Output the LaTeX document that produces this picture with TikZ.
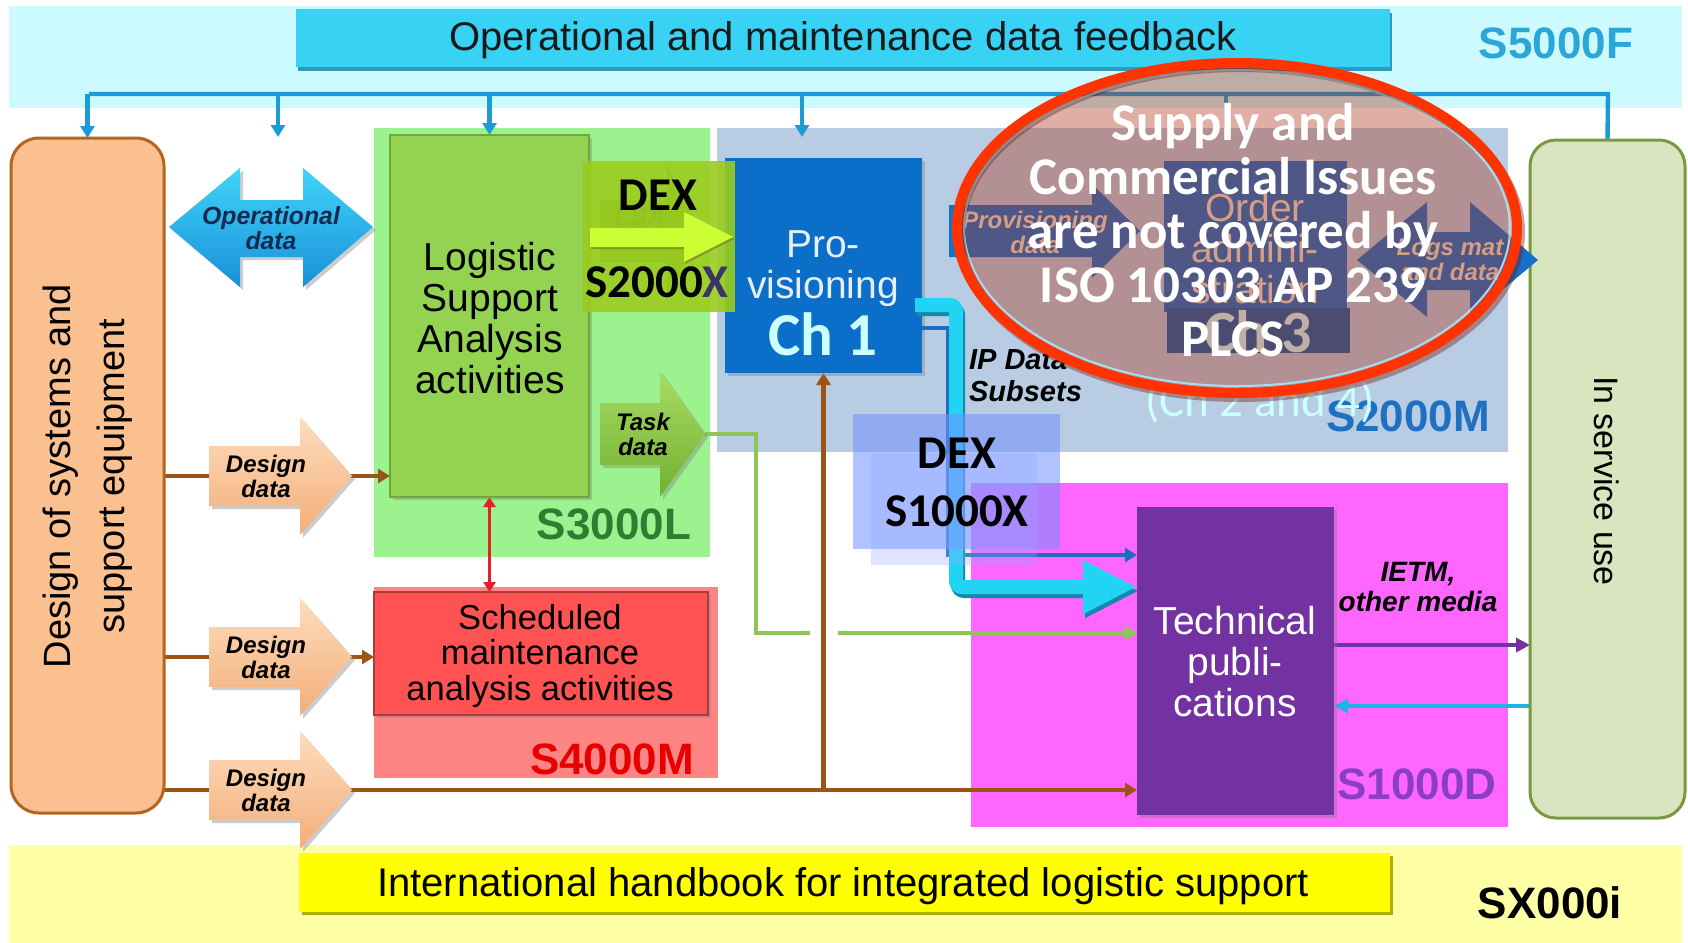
\documentclass[tikz,border=0pt]{standalone}
\usepackage{fontspec}
\setmainfont{Liberation Sans}
\newfontfamily\calibri{Carlito}
\usetikzlibrary{arrows.meta,shadows,fit}
\pgfdeclarelayer{bg}
\pgfdeclarelayer{lines}
\pgfsetlayers{bg,lines,main}
\definecolor{bandcyan}{HTML}{CCFAFF}
\definecolor{barcyan}{HTML}{38D2F4}
\definecolor{barcyanD}{HTML}{1E8FB8}
\definecolor{bandyel}{HTML}{FFFFA6}
\definecolor{baryel}{HTML}{FFFF00}
\definecolor{baryelD}{HTML}{B0B000}
\definecolor{fbblue}{HTML}{1C9BD7}
\definecolor{sfiveblue}{HTML}{2AA6D9}
\definecolor{regGreen}{HTML}{9DF290}
\definecolor{regBlue}{HTML}{B8CCE4}
\definecolor{regRed}{HTML}{FF8585}
\definecolor{regMag}{HTML}{FF66FF}
\definecolor{orangeF}{HTML}{FAC08F}
\definecolor{orangeD}{HTML}{B5651D}
\definecolor{servF}{HTML}{D8E5BE}
\definecolor{servD}{HTML}{779A3E}
\definecolor{lsaG}{HTML}{94D352}
\definecolor{lsaD}{HTML}{6FA833}
\definecolor{provB}{HTML}{0B6FC9}
\definecolor{schedR}{HTML}{FF5252}
\definecolor{tpP}{HTML}{7332A2}
\definecolor{brownL}{HTML}{9A5416}
\definecolor{greenL}{HTML}{8FC556}
\definecolor{cyanP}{HTML}{22D4F4}
\definecolor{cyanPD}{HTML}{1488AA}
\definecolor{thinB}{HTML}{1F6FC0}
\definecolor{backC}{HTML}{1EB4E8}
\definecolor{redA}{HTML}{E3202A}
\definecolor{darkG}{HTML}{2E7D32}
\definecolor{s2Blue}{HTML}{1E70C0}
\definecolor{s4Red}{HTML}{E60000}
\definecolor{s1Purp}{HTML}{8A3FC0}
\definecolor{chCyan}{HTML}{CCFFFF}
\definecolor{provTxt}{HTML}{E6EEF6}
\definecolor{dexG}{HTML}{9ACD1E}
\definecolor{dexArrow}{HTML}{CCFF33}
\definecolor{xPurp}{HTML}{3B3566}
\definecolor{dexBlue}{HTML}{7090FF}
\definecolor{dexBlue2}{HTML}{98A8FF}
\definecolor{inBlue}{HTML}{1570CC}
\definecolor{lightTxt}{HTML}{F2E2CC}
\definecolor{ringRed}{HTML}{FF3300}
\definecolor{tintRed}{HTML}{AC2F13}
\definecolor{opNavy}{HTML}{142A50}
\definecolor{ddTop}{HTML}{FDDDBE}
\definecolor{ddBot}{HTML}{F3AE78}
\definecolor{opTop}{HTML}{40D4F8}
\definecolor{opBot}{HTML}{1890D8}
\definecolor{taskTop}{HTML}{A8DC64}
\definecolor{taskBot}{HTML}{72B030}
\definecolor{innerRing}{HTML}{A8DCF0}
\definecolor{ringShadow}{HTML}{701808}
\begin{document}
\begin{tikzpicture}[x=0.5pt,y=-0.5pt,
  region/.style={inner sep=0pt, outer sep=0pt, fit={#1}},
  shd/.style={drop shadow={shadow xshift=1.5pt, shadow yshift=-1.5pt, opacity=0.4}},
  fbline/.style={draw=fbblue, line width=2.2pt},
  fbarrow/.style={fbline, -{Triangle[length=6pt,width=7pt]}},
  brline/.style={draw=brownL, line width=2.2pt},
  brarrow/.style={brline, -{Triangle[length=6pt,width=7pt]}},
  grline/.style={draw=greenL, line width=2.4pt},
  codelbl/.style={font=\bfseries\fontsize{22}{24}\selectfont},
  ital/.style={font=\bfseries\itshape\fontsize{12}{12.5}\selectfont, align=center},
  dextext/.style={font=\calibri\bfseries\fontsize{23.5}{25}\selectfont},
  boxtext/.style={align=center, font=\fontsize{19.5}{20.5}\selectfont}]
\useasboundingbox (0,0) rectangle (1688,943);

% ---------- background layer ----------
\begin{pgfonlayer}{bg}
\fill[white] (0,0) rectangle (1688,943);
\node[region={(9,6) (1682,108)}, fill=bandcyan] (topband) {};
\node[region={(9,845) (1682,943)}, fill=bandyel] (botband) {};
\node[region={(374,128) (710,557)}, fill=regGreen] (r3000) {};
\node[region={(717,128) (1508,452)}, fill=regBlue] (r2000) {};
\node[region={(374,587) (718,778)}, fill=regRed] (r4000) {};
\node[region={(971,483) (1508,827)}, fill=regMag] (r1000) {};
\end{pgfonlayer}

% ---------- bars and labels ----------
\node[region={(296,9) (1390,67)}, fill=barcyan,
  drop shadow={shadow xshift=1pt, shadow yshift=-2pt, fill=barcyanD, opacity=0.9}] (fbbar) {};
\node[font=\fontsize{20}{24}\selectfont, text=black!90] (fbtxt) at (843,40) {Operational and maintenance data feedback};
\node[region={(299,853) (1390,912)}, fill=baryel,
  drop shadow={shadow xshift=1.5pt, shadow yshift=-1.5pt, fill=baryelD, opacity=1}] (ilsbar) {};
\node[font=\fontsize{20}{24}\selectfont] (ilstxt) at (843,886) {International handbook for integrated logistic support};
\node[codelbl, text=sfiveblue] (s5) at (1556,43) {S5000F};
\node[codelbl, text=black] (sx) at (1550,903) {SX000i};

% ---------- side boxes ----------
\node[region={(11,138) (164,813)}, fill=orangeF, draw=orangeD, line width=1.5pt, rounded corners=14pt] (design) {};
\node[rotate=90, align=center, font=\fontsize{19}{27}\selectfont] (designtxt) at (88,476) {Design of systems and\\support equipment};
\node[region={(1530,140) (1685,818)}, fill=servF, draw=servD, line width=1.5pt, rounded corners=13pt] (service) {};
\node[rotate=-90, font=\fontsize{17}{20}\selectfont] (servtxt) at (1607,481) {In service use};

% ---------- main boxes ----------
\node[region={(390,135) (589,497)}, fill=lsaG, draw=lsaD, line width=1pt, shd] (lsa) {};
\node[boxtext] (lsatxt) at (490,318) {Logistic\\Support\\Analysis\\activities};
\node[region={(374,592) (708,715)}, fill=schedR, draw=schedR!70!black, line width=0.8pt, shd] (sched) {};
\node[align=center, font=\fontsize{17.3}{17.6}\selectfont] (schedtxt) at (540,656) {Scheduled\\maintenance\\analysis activities};
\node[region={(725,158) (922,373)}, fill=provB, shd] (prov) {};
\node[text=provTxt, boxtext] (provtxt) at (823,269) {Pro-\\visioning};
\node[text=chCyan, font=\calibri\bfseries\fontsize{30.5}{32}\selectfont] (ch1) at (823,334) {Ch 1};
\node[region={(1137,507) (1334,815)}, fill=tpP, shd] (tp) {};
\node[text=white, boxtext] (tptxt) at (1235,662) {Technical\\publi-\\cations};

% ---------- connector coordinates ----------
\coordinate (fbL) at (89,94);
\coordinate (fbR) at (1608,94);
\coordinate (fb2) at (278,94);
\coordinate (fb2e) at (278,137);
\coordinate (fb4) at (802,94);
\coordinate (fb4e) at (802,137);
\coordinate (fb5) at (1226,94);
\coordinate (fb5e) at (1226,128);
\coordinate (tasktip) at (705,434);
\coordinate (g1) at (756,434);
\coordinate (g2) at (756,633);
\coordinate (g3) at (810,633);
\coordinate (g4) at (838,633);
\coordinate (ip1) at (948,328);
\coordinate (ip2) at (948,555);
\coordinate (cys) at (915,305);
\coordinate (cy1) at (956,305);
\coordinate (cy2) at (956,587);
\coordinate (pa) at (1400,645);
\coordinate (ca) at (1400,706);

% ---------- arrows (shapes) ----------
\path[top color=opTop, bottom color=opBot, shd]
  (169,227) -- (240,168) -- (240,200) -- (303,200) -- (303,168) -- (373,227)
  -- (303,287) -- (303,257) -- (240,257) -- (240,287) -- cycle;
\node[ital, text=opNavy, font=\bfseries\itshape\fontsize{12.4}{12.6}\selectfont] (opdata) at (271,228) {Operational\\data};

\foreach \c/\n in {476/dd1, 657/dd2, 790/dd3} {
  \path[top color=ddTop, bottom color=ddBot, shd]
    (209,\c-30) -- (300,\c-30) -- (300,\c-59) -- (352,\c) -- (300,\c+59) -- (300,\c+30) -- (209,\c+30) -- cycle;
  \node[ital] (\n) at (266,\c) {Design\\data};
}

\path[top color=taskTop, bottom color=taskBot, shd]
  (600,403) -- (660,403) -- (660,371) -- (705,434) -- (660,497) -- (660,465) -- (600,465) -- cycle;
\node[ital] (task) at (643,434) {Task\\data};

% ---------- connectors (under boxes) ----------
\begin{pgfonlayer}{lines}
\draw[fbline] (fbL) -- (fbR) -- (service.north);
\draw[fbarrow] (design.north |- fbL) -- (design.north);
\draw[fbarrow] (fb2) -- (fb2e);
\draw[fbarrow] (lsa.north |- fbL) -- (lsa.north);
\draw[fbarrow] (fb4) -- (fb4e);
\draw[fbline] (fb5) -- (fb5e);
\draw[brarrow] (design.east |- dd1) -- (lsa.west |- dd1);
\draw[brarrow] (design.east |- dd2) -- (sched.west |- dd2);
\draw[brarrow] (design.east |- dd3) -- (tp.west |- dd3);
\draw[brarrow] (prov.south |- dd3) -- (prov.south);
\draw[grline] (tasktip) -- (g1) -- (g2) -- (g3);
\draw[grline, -{Triangle[length=6pt,width=7pt]}] (g4) -- (tp.west |- g4);
\draw[draw=redA, line width=1.6pt, {Triangle[length=5pt,width=6pt]}-{Triangle[length=5pt,width=6pt]}]
  (lsa.south) -- (lsa.south |- sched.north);
\draw[draw=tpP, line width=2pt, -{Triangle[length=7pt,width=7pt]}] (tp.east |- pa) -- (service.west |- pa);
\draw[draw=backC, line width=2pt, -{Triangle[length=7pt,width=7pt]}] (service.west |- ca) -- (tp.east |- ca);
\end{pgfonlayer}

% ---------- IP data subsets paths ----------
\draw[thinB, line width=2pt, -{Triangle[length=6pt,width=7pt]}] (prov.east |- ip1) -- (ip1) -- (ip2) -- (tp.west |- ip2);
\begin{scope}[transform canvas={shift={(1pt,-2pt)}}]
\draw[cyanPD, line width=7pt, rounded corners=3pt, -{Triangle[length=27pt,width=25pt]}] (cys) -- (cy1) -- (cy2) -- (tp.west |- cy2);
\end{scope}
\draw[cyanP, line width=7pt, rounded corners=3pt, -{Triangle[length=27pt,width=25pt]}] (cys) -- (cy1) -- (cy2) -- (tp.west |- cy2);

% ---------- DEX S2000X overlay ----------
\path[fill=lsaD] (600,200) -- (667,200) -- (667,165) -- (700,231) -- (667,297) -- (667,262) -- (600,262) -- cycle;
\node[font=\bfseries\itshape\fontsize{13}{13}\selectfont, text=lsaD!60!black] (lsafaint) at (640,217) {LSA};
\node[region={(583,161) (735,312)}, fill=dexG, fill opacity=0.9] (dexbox2) {};
\path[fill=dexArrow, drop shadow={shadow xshift=0.5pt, shadow yshift=-1pt, fill=olive!70!black, opacity=0.5}]
  (590,228) -- (684,228) -- (684,212) -- (733,237) -- (684,262) -- (684,247) -- (590,247) -- cycle;
\node[dextext] (dexa) at (658,195) {DEX};
\node[dextext] (dexb) at (657,282) {S2000\textcolor{xPurp}{X}};

% ---------- labels ----------
\node[codelbl, text=darkG] (s3) at (614,524) {S3000L};
\node[codelbl, text=s4Red] (s4) at (612,759) {S4000M};
\node[codelbl, text=s1Purp] (s1) at (1417,784) {S1000D};
\node[codelbl, text=s2Blue] (s2) at (1408,416) {S2000M};
\node[text=chCyan, font=\calibri\fontsize{23.5}{25}\selectfont] (ch24) at (1260,403) {(Ch 2 and 4)};
\node[anchor=west, align=left, font=\bfseries\itshape\fontsize{14.5}{16}\selectfont] (ipd) at (962,376) {IP Data\\Subsets};
\node[align=center, font=\bfseries\itshape\fontsize{14}{15}\selectfont] (ietm) at (1418,587) {IETM,\\other media};

% ---------- contents under the ellipse ----------
\path[fill=inBlue] (949,205) -- (1092,205) -- (1092,184) -- (1140,231) -- (1092,278) -- (1092,257) -- (949,257) -- cycle;
\node[ital, text=lightTxt] (provdata) at (1035,232) {Provisioning\\data};
\node[region={(1164,161) (1347,312)}, fill=inBlue] (order) {};
\node[text=lightTxt, boxtext] (ordertxt) at (1255,249) {Order\\admini-\\stration};
\node[region={(1167,308) (1350,353)}, fill=inBlue!85!black] (ch3box) {};
\node[text=chCyan, font=\calibri\bfseries\fontsize{30}{32}\selectfont] (ch3) at (1258,332) {Ch 3};
\path[fill=inBlue] (1357,260) -- (1427,202) -- (1427,232) -- (1470,232) -- (1470,202) -- (1538,260)
  -- (1470,317) -- (1470,290) -- (1427,290) -- (1427,317) -- cycle;
\node[ital, text=lightTxt] (logs) at (1450,260) {Logs mat\\and data};

% ---------- DEX S1000X overlay ----------
\node[region={(853,414) (1060,549)}, fill=dexBlue, fill opacity=0.55] (dexbox1) {};
\node[region={(871,453) (1037,565)}, fill=dexBlue2, fill opacity=0.3] (dexbox1b) {};
\node[dextext] (dexc) at (957,453) {DEX};
\node[dextext] (dexd) at (957,511) {S1000X};

% ---------- ellipse annotation ----------
\path[fill=tintRed, fill opacity=0.38] (1237,228) ellipse [x radius=140pt, y radius=82.5pt];
\draw[draw=innerRing, line width=1pt] (1237,228) ellipse [x radius=136.5pt, y radius=79pt];
\draw[draw=ringShadow, line width=5pt, opacity=0.4] (1240,232) ellipse [x radius=140pt, y radius=82.5pt];
\draw[draw=ringRed, line width=5pt] (1237,228) ellipse [x radius=140pt, y radius=82.5pt];
\node[text=white, align=center, font=\calibri\bfseries\fontsize{26.5}{27}\selectfont] (plcs) at (1233,230)
  {Supply and\\Commercial Issues\\are not covered by\\ISO 10303 AP 239\\PLCS};
\end{tikzpicture}
\end{document}
